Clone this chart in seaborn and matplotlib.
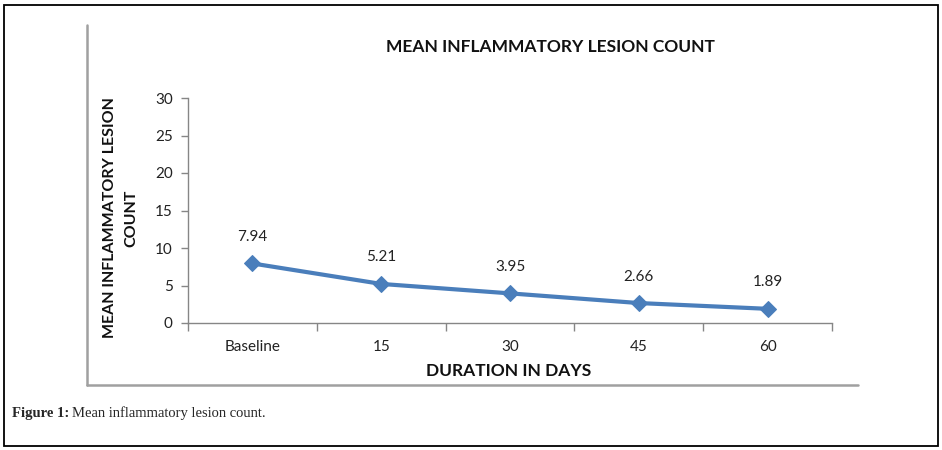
import pandas as pd
import seaborn as sns
import matplotlib.pyplot as plt
from matplotlib.lines import Line2D
from matplotlib.patches import Rectangle

# Данные графика
durations = ['Baseline', '15', '30', '45', '60']
lesion_counts = [7.94, 5.21, 3.95, 2.66, 1.89]
y_ticks = [0, 5, 10, 15, 20, 25, 30]

df = pd.DataFrame({'duration': durations, 'count': lesion_counts})

sns.set_style('white')
plt.rcParams['font.family'] = ['Lato', 'DejaVu Sans']

W, H = 942, 450
fig = plt.figure(figsize=(W / 100, H / 100), dpi=100)
ax = fig.add_axes([188 / W, 1 - 323 / H, (832 - 188) / W, (323 - 98) / H])

line_color = '#4A7EBB'
sns.lineplot(x='duration', y='count', data=df, ax=ax, color=line_color,
             linewidth=3, marker='D', markersize=8, markeredgecolor=line_color)

# Подписи значений над точками
for i, v in enumerate(lesion_counts):
    ax.annotate(f'{v:.2f}', (i, v), xytext=(0, 14), textcoords='offset points',
                ha='center', va='bottom', fontsize=11, color='#222222')

ax.set_ylim(0, 30)
ax.set_yticks(y_ticks)
ax.set_xlim(-0.5, len(durations) - 0.5)
ax.set_xticks(range(len(durations)))
ax.set_xticklabels(durations)
ax.set_xticks([i - 0.5 for i in range(len(durations) + 1)], minor=True)

spine_color = '#868686'
for s in ['top', 'right']:
    ax.spines[s].set_visible(False)
for s in ['left', 'bottom']:
    ax.spines[s].set_color(spine_color)
    ax.spines[s].set_linewidth(1)

ax.tick_params(axis='y', which='major', direction='out', length=5, color=spine_color,
               width=1, left=True, labelsize=11, labelcolor='#222222', pad=6)
ax.tick_params(axis='x', which='major', length=0, labelsize=11, labelcolor='#222222', pad=12)
ax.tick_params(axis='x', which='minor', direction='out', length=6, color=spine_color,
               width=1, bottom=True)

ax.set_xlabel('')
ax.set_ylabel('')

# Заголовок и подписи осей
fig.text(550 / W, 1 - 47 / H, 'MEAN INFLAMMATORY LESION COUNT', ha='center', va='center',
         fontsize=12.5, fontweight='bold', color='#111111')
fig.text(509 / W, 1 - 371 / H, 'DURATION IN DAYS', ha='center', va='center',
         fontsize=12.5, fontweight='bold', color='#111111')
fig.text(121 / W, 1 - 218 / H, 'MEAN INFLAMMATORY LESION\nCOUNT', ha='center', va='center',
         rotation=90, fontsize=11.5, fontweight='bold', color='#111111', linespacing=1.65)

# Серая рамка области графика
fig.add_artist(Line2D([87 / W, 87 / W], [1 - 25 / H, 1 - 385 / H], transform=fig.transFigure,
                      color='#a0a0a0', linewidth=1.8))
fig.add_artist(Line2D([87 / W, 858 / W], [1 - 385 / H, 1 - 385 / H], transform=fig.transFigure,
                      color='#a0a0a0', linewidth=1.8))

# Внешняя рамка
fig.add_artist(Rectangle((4 / W, 1 - 446 / H), (938 - 4) / W, (446 - 5) / H,
                         transform=fig.transFigure, fill=False, edgecolor='black', linewidth=1.3))

# Подпись рисунка
fig.text(12 / W, 1 - 413 / H, 'Figure 1:', ha='left', va='center', fontsize=10.5,
         fontweight='bold', family=['Liberation Serif', 'DejaVu Serif'])
fig.text(72 / W, 1 - 413 / H, 'Mean inflammatory lesion count.', ha='left', va='center',
         fontsize=10.5, family=['Liberation Serif', 'DejaVu Serif'])

fig.savefig('out.png', dpi=100)
